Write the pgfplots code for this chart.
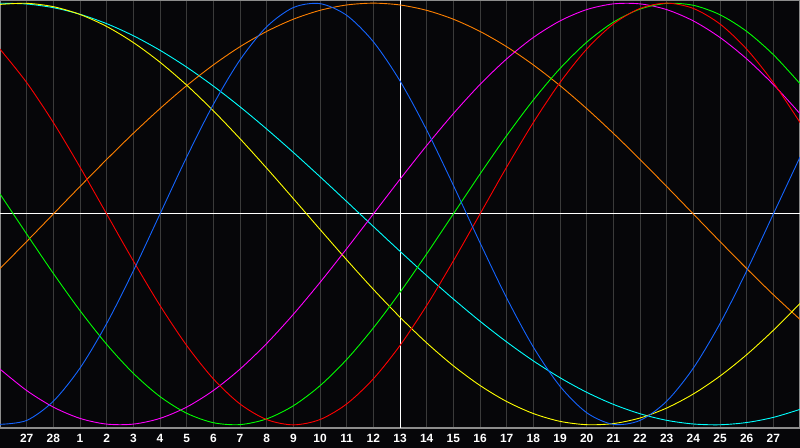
\documentclass[border=0pt]{standalone}
\usepackage{fontspec}
\setmainfont{Liberation Sans}
\usepackage{pgfplots}
\pgfplotsset{compat=1.18}
\definecolor{bg}{RGB}{6,6,9}
\definecolor{gridc}{RGB}{58,58,58}
\definecolor{framec}{RGB}{140,140,140}
\definecolor{cblue}{RGB}{20,100,255}
\definecolor{corange}{RGB}{255,128,0}
\definecolor{ccyan}{RGB}{0,255,255}
\definecolor{cmag}{RGB}{255,0,255}
\definecolor{cyel}{RGB}{255,255,0}
\definecolor{cgreen}{RGB}{0,255,0}
\definecolor{cred}{RGB}{255,0,0}
\begin{document}
\begin{tikzpicture}
\fill[bg] (0bp,0bp) rectangle (800bp,448bp);
\useasboundingbox (0bp,0bp) rectangle (800bp,448bp);
\begin{axis}[
  at={(0bp,20bp)}, anchor=south west,
  width=800bp, height=428bp, scale only axis,
  xmin=0, xmax=30, ymin=-1.015, ymax=1.015,
  axis line style={framec, line width=1.5bp},
  xtick={1,...,29},
  xticklabels={27,28,1,2,3,4,5,6,7,8,9,10,11,12,13,14,15,16,17,18,19,20,21,22,23,24,25,26,27},
  ytick=\empty,
  major tick length=0pt,
  xmajorgrids,
  grid style={gridc, line width=1bp},
  extra x ticks={15}, extra x tick labels={},
  extra x tick style={grid style={white, line width=1bp}},
  extra y ticks={0}, extra y tick labels={},
  extra y tick style={grid style={white, line width=1bp}, ymajorgrids},
  xticklabel style={font=\fontsize{12}{12}\selectfont\bfseries, text=white, inner sep=0pt, anchor=north, yshift=-6bp},
  every axis plot/.append style={line width=0.9bp, smooth, no marks},
]
% cyan, period 53
\addplot[ccyan] coordinates {(0,0.9996)(1,0.9960)(2,0.9786)(3,0.9473)(4,0.9028)(5,0.8456)(6,0.7765)(7,0.6966)(8,0.6068)(9,0.5085)(10,0.4031)(11,0.2921)(12,0.1769)(13,0.0592)(14,-0.0592)(15,-0.1769)(16,-0.2921)(17,-0.4031)(18,-0.5085)(19,-0.6068)(20,-0.6966)(21,-0.7765)(22,-0.8456)(23,-0.9028)(24,-0.9473)(25,-0.9786)(26,-0.9960)(27,-0.9996)(28,-0.9890)(29,-0.9647)(30,-0.9267)};
% orange, period 48
\addplot[corange] coordinates {(0,-0.2588)(1,-0.1305)(2,0)(3,0.1305)(4,0.2588)(5,0.3827)(6,0.5)(7,0.6088)(8,0.7071)(9,0.7934)(10,0.8660)(11,0.9239)(12,0.9659)(13,0.9914)(14,1)(15,0.9914)(16,0.9659)(17,0.9239)(18,0.8660)(19,0.7934)(20,0.7071)(21,0.6088)(22,0.5)(23,0.3827)(24,0.2588)(25,0.1305)(26,0)(27,-0.1305)(28,-0.2588)(29,-0.3827)(30,-0.5)};
% yellow, period 43
\addplot[cyel] coordinates {(0,0.9940)(1,0.9993)(2,0.9834)(3,0.9464)(4,0.8894)(5,0.8133)(6,0.7199)(7,0.6112)(8,0.4894)(9,0.3572)(10,0.2174)(11,0.0730)(12,-0.0730)(13,-0.2174)(14,-0.3572)(15,-0.4894)(16,-0.6112)(17,-0.7199)(18,-0.8133)(19,-0.8894)(20,-0.9464)(21,-0.9834)(22,-0.9993)(23,-0.9940)(24,-0.9675)(25,-0.9203)(26,-0.8536)(27,-0.7687)(28,-0.6673)(29,-0.5517)(30,-0.4244)};
% magenta, period 38
\addplot[cmag] coordinates {(0,-0.7357)(1,-0.8372)(2,-0.9158)(3,-0.9694)(4,-0.9966)(5,-0.9966)(6,-0.9694)(7,-0.9158)(8,-0.8372)(9,-0.7357)(10,-0.6142)(11,-0.4759)(12,-0.3247)(13,-0.1646)(14,0)(15,0.1646)(16,0.3247)(17,0.4759)(18,0.6142)(19,0.7357)(20,0.8372)(21,0.9158)(22,0.9694)(23,0.9966)(24,0.9966)(25,0.9694)(26,0.9158)(27,0.8372)(28,0.7357)(29,0.6142)(30,0.4759)};
% green, period 33
\addplot[cgreen] coordinates {(0,0.0950)(1,-0.0950)(2,-0.2817)(3,-0.4582)(4,-0.6182)(5,-0.7557)(6,-0.8660)(7,-0.9450)(8,-0.9898)(9,-0.9989)(10,-0.9718)(11,-0.9096)(12,-0.8146)(13,-0.6901)(14,-0.5406)(15,-0.3717)(16,-0.1893)(17,0)(18,0.1893)(19,0.3717)(20,0.5406)(21,0.6901)(22,0.8146)(23,0.9096)(24,0.9718)(25,0.9989)(26,0.9898)(27,0.9450)(28,0.8660)(29,0.7557)(30,0.6182)};
% red, period 28
\addplot[cred] coordinates {(0,0.7818)(1,0.6235)(2,0.4339)(3,0.2225)(4,0)(5,-0.2225)(6,-0.4339)(7,-0.6235)(8,-0.7818)(9,-0.9010)(10,-0.9749)(11,-1)(12,-0.9749)(13,-0.9010)(14,-0.7818)(15,-0.6235)(16,-0.4339)(17,-0.2225)(18,0)(19,0.2225)(20,0.4339)(21,0.6235)(22,0.7818)(23,0.9010)(24,0.9749)(25,1)(26,0.9749)(27,0.9010)(28,0.7818)(29,0.6235)(30,0.4339)};
% blue, period 23
\addplot[cblue] coordinates {(0,-0.9977)(1,-0.9791)(2,-0.8879)(3,-0.7308)(4,-0.5196)(5,-0.2698)(6,0)(7,0.2698)(8,0.5196)(9,0.7308)(10,0.8879)(11,0.9791)(12,0.9977)(13,0.9423)(14,0.8170)(15,0.6311)(16,0.3984)(17,0.1362)(18,-0.1362)(19,-0.3984)(20,-0.6311)(21,-0.8170)(22,-0.9423)(23,-0.9977)(24,-0.9791)(25,-0.8879)(26,-0.7308)(27,-0.5196)(28,-0.2698)(29,0)(30,0.2698)};
\end{axis}
\end{tikzpicture}
\end{document}
